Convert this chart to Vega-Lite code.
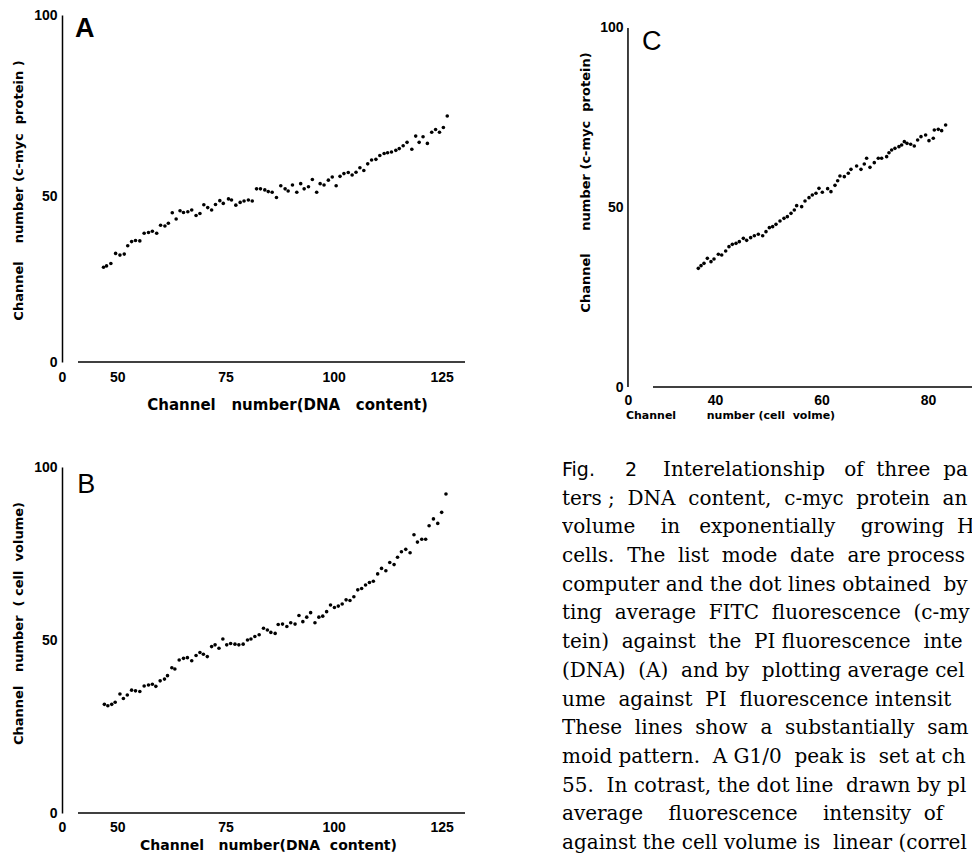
{
  "$schema": "https://vega.github.io/schema/vega-lite/v6.json",
  "background": "white",
  "padding": {"left": 12, "top": 8, "right": 0, "bottom": 0},
  "autosize": {"type": "pad"},
  "config": {
    "view": {"stroke": null},
    "axis": {
      "labelFont": "Liberation Sans", "labelFontWeight": "bold", "labelFontSize": 14, "labelColor": "black",
      "titleFont": "DejaVu Sans", "titleFontWeight": "bold", "titleFontSize": 13, "titleColor": "black",
      "domainColor": "black", "domainWidth": 1.5, "ticks": false, "grid": false,
      "labelFlush": false, "labelOverlap": false
    }
  },
  "datasets": {
    "a": [
      {"x":46.8,"y":27.3},{"x":47.5,"y":27.7},{"x":48.5,"y":28.4},{"x":49.6,"y":31.3},{"x":50.6,"y":30.8},{"x":51.6,"y":31.1},{"x":52.4,"y":33.5},{"x":53.3,"y":34.7},{"x":54.2,"y":35.0},{"x":55.2,"y":34.9},
      {"x":56.2,"y":37.1},{"x":57.2,"y":37.3},{"x":58.1,"y":37.7},{"x":59.1,"y":37.1},{"x":60.0,"y":39.4},{"x":61.0,"y":39.2},{"x":61.8,"y":40.0},{"x":62.7,"y":43.0},{"x":63.6,"y":41.2},{"x":64.5,"y":43.6},
      {"x":65.3,"y":43.1},{"x":66.3,"y":43.3},{"x":67.2,"y":43.8},{"x":68.2,"y":42.2},{"x":69.1,"y":42.8},{"x":70.0,"y":45.3},{"x":70.9,"y":44.5},{"x":71.8,"y":43.8},{"x":72.7,"y":45.4},{"x":73.7,"y":46.5},
      {"x":74.5,"y":45.7},{"x":75.7,"y":47.0},{"x":76.4,"y":46.7},{"x":77.4,"y":45.2},{"x":78.4,"y":46.0},{"x":79.3,"y":46.4},{"x":80.3,"y":46.7},{"x":81.2,"y":46.4},{"x":82.2,"y":49.9},{"x":83.1,"y":49.9},
      {"x":84.1,"y":49.6},{"x":84.9,"y":49.1},{"x":85.8,"y":48.9},{"x":86.8,"y":47.4},{"x":87.8,"y":50.8},{"x":88.8,"y":49.9},{"x":89.5,"y":49.3},{"x":90.5,"y":51.0},{"x":91.5,"y":48.9},{"x":92.4,"y":51.4},
      {"x":93.2,"y":49.9},{"x":94.2,"y":50.5},{"x":95.1,"y":52.6},{"x":96.1,"y":48.9},{"x":96.9,"y":51.4},{"x":97.8,"y":51.0},{"x":98.8,"y":52.4},{"x":99.7,"y":53.3},{"x":100.6,"y":50.8},{"x":101.5,"y":53.5},
      {"x":102.4,"y":54.3},{"x":103.4,"y":54.6},{"x":104.3,"y":53.9},{"x":105.2,"y":54.7},{"x":106.1,"y":56.0},{"x":107.0,"y":55.2},{"x":107.9,"y":57.1},{"x":108.8,"y":58.2},{"x":109.8,"y":58.4},{"x":110.7,"y":59.5},
      {"x":111.7,"y":60.1},{"x":112.5,"y":60.3},{"x":113.4,"y":60.5},{"x":114.4,"y":61.0},{"x":115.2,"y":61.5},{"x":116.1,"y":62.3},{"x":117.0,"y":63.3},{"x":118.1,"y":61.3},{"x":119.0,"y":65.1},{"x":119.8,"y":63.3},
      {"x":120.7,"y":64.9},{"x":121.7,"y":63.0},{"x":122.7,"y":66.2},{"x":123.6,"y":67.0},{"x":124.5,"y":66.2},{"x":125.4,"y":67.6},{"x":126.3,"y":70.9}
    ],
    "b": [
      {"x":47.0,"y":31.4},{"x":47.8,"y":31.0},{"x":48.7,"y":31.4},{"x":49.5,"y":32.0},{"x":50.6,"y":34.4},{"x":51.4,"y":33.1},{"x":52.3,"y":34.1},{"x":53.3,"y":35.5},{"x":54.2,"y":35.3},{"x":55.2,"y":35.1},
      {"x":56.2,"y":36.7},{"x":57.2,"y":37.0},{"x":58.1,"y":37.2},{"x":58.9,"y":36.6},{"x":59.9,"y":38.2},{"x":60.9,"y":38.7},{"x":61.6,"y":39.7},{"x":62.6,"y":42.0},{"x":63.3,"y":41.6},{"x":64.3,"y":44.2},
      {"x":65.3,"y":44.7},{"x":66.2,"y":44.9},{"x":67.2,"y":44.0},{"x":68.2,"y":45.5},{"x":69.1,"y":46.4},{"x":69.9,"y":45.9},{"x":70.8,"y":45.2},{"x":71.8,"y":48.1},{"x":72.6,"y":48.6},{"x":73.5,"y":47.6},
      {"x":74.4,"y":50.3},{"x":75.3,"y":48.6},{"x":76.2,"y":49.0},{"x":77.2,"y":48.8},{"x":78.1,"y":48.6},{"x":79.1,"y":48.8},{"x":80.1,"y":50.0},{"x":80.9,"y":50.3},{"x":81.8,"y":51.0},{"x":82.8,"y":51.5},
      {"x":83.8,"y":53.4},{"x":84.7,"y":52.9},{"x":85.5,"y":52.2},{"x":86.5,"y":51.9},{"x":87.2,"y":54.5},{"x":88.2,"y":54.6},{"x":89.2,"y":53.9},{"x":90.1,"y":55.0},{"x":91.1,"y":54.6},{"x":92.0,"y":57.1},
      {"x":92.9,"y":55.3},{"x":93.8,"y":56.6},{"x":94.7,"y":57.9},{"x":95.7,"y":55.0},{"x":96.6,"y":56.6},{"x":97.5,"y":56.9},{"x":98.4,"y":58.2},{"x":99.3,"y":60.1},{"x":100.2,"y":59.4},{"x":101.1,"y":59.8},
      {"x":102.0,"y":60.4},{"x":102.9,"y":61.6},{"x":103.8,"y":61.4},{"x":104.7,"y":62.5},{"x":105.6,"y":64.5},{"x":106.5,"y":64.9},{"x":107.4,"y":65.9},{"x":108.3,"y":66.6},{"x":109.2,"y":67.0},{"x":110.2,"y":69.1},
      {"x":111.1,"y":70.7},{"x":112.1,"y":70.0},{"x":113.0,"y":72.4},{"x":114.0,"y":71.8},{"x":114.8,"y":73.9},{"x":115.7,"y":75.5},{"x":116.7,"y":76.2},{"x":117.7,"y":75.2},{"x":118.6,"y":80.4},{"x":119.4,"y":78.3},
      {"x":120.4,"y":79.1},{"x":121.3,"y":79.1},{"x":122.1,"y":83.0},{"x":123.1,"y":85.0},{"x":124.1,"y":83.7},{"x":125.0,"y":86.9},{"x":126.0,"y":92.2}
    ],
    "c": [
      {"x":36.87,"y":33.05},{"x":37.38,"y":33.8},{"x":37.94,"y":34.45},{"x":38.57,"y":35.84},{"x":39.25,"y":34.91},{"x":39.82,"y":35.65},{"x":40.63,"y":36.96},{"x":41.26,"y":36.77},{"x":42.01,"y":37.88},{"x":42.63,"y":39.09},
      {"x":43.26,"y":39.74},{"x":43.95,"y":40.02},{"x":44.57,"y":40.48},{"x":45.33,"y":41.41},{"x":45.95,"y":40.85},{"x":46.7,"y":41.6},{"x":47.39,"y":42.15},{"x":48.14,"y":42.53},{"x":48.96,"y":42.15},{"x":49.58,"y":43.27},
      {"x":50.21,"y":44.38},{"x":50.83,"y":44.66},{"x":51.46,"y":45.31},{"x":52.21,"y":46.24},{"x":52.96,"y":46.98},{"x":53.59,"y":47.45},{"x":54.28,"y":48.37},{"x":54.9,"y":49.3},{"x":55.34,"y":50.51},{"x":56.28,"y":50.23},
      {"x":56.91,"y":51.81},{"x":57.66,"y":52.74},{"x":58.28,"y":53.48},{"x":58.97,"y":53.95},{"x":59.53,"y":55.34},{"x":60.16,"y":54.23},{"x":61.16,"y":55.25},{"x":61.78,"y":54.41},{"x":62.54,"y":56.17},{"x":63.04,"y":57.47},
      {"x":63.47,"y":58.77},{"x":64.29,"y":58.59},{"x":65.04,"y":59.52},{"x":65.54,"y":60.63},{"x":66.6,"y":61.56},{"x":67.42,"y":60.63},{"x":68.04,"y":62.12},{"x":68.48,"y":63.7},{"x":69.11,"y":61.19},{"x":69.92,"y":62.49},
      {"x":70.67,"y":63.7},{"x":71.3,"y":63.7},{"x":72.24,"y":64.16},{"x":72.68,"y":65.27},{"x":73.18,"y":66.02},{"x":73.8,"y":66.48},{"x":74.55,"y":66.95},{"x":75.06,"y":67.41},{"x":75.56,"y":68.34},{"x":76.06,"y":67.87},
      {"x":76.75,"y":67.6},{"x":77.43,"y":67.13},{"x":78.06,"y":68.8},{"x":78.69,"y":69.73},{"x":79.56,"y":70.19},{"x":80.19,"y":68.62},{"x":81.0,"y":69.27},{"x":81.19,"y":71.59},{"x":81.94,"y":71.77},{"x":82.57,"y":71.4},
      {"x":83.32,"y":72.98}
    ],
    "caption": [
      {"line":1,"kind":"fig","text":"Fig.\u00a0\u00a0\u00a0\u00a0 2"},
      {"line":1,"kind":"first","text":"Interelationship \u00a0\u00a0of \u00a0three \u00a0pa"},
      {"line":2,"kind":"body","text":"ters ; \u00a0DNA \u00a0content, \u00a0c-myc \u00a0protein \u00a0an"},
      {"line":3,"kind":"body","text":"volume \u00a0\u00a0\u00a0in \u00a0\u00a0exponentially \u00a0\u00a0\u00a0growing \u00a0H"},
      {"line":4,"kind":"body","text":"cells. \u00a0The \u00a0list \u00a0mode \u00a0date \u00a0are process"},
      {"line":5,"kind":"body","text":"computer and the dot lines obtained \u00a0by"},
      {"line":6,"kind":"body","text":"ting \u00a0average \u00a0FITC \u00a0fluorescence \u00a0(c-my"},
      {"line":7,"kind":"body","text":"tein) \u00a0against \u00a0the \u00a0PI fluorescence \u00a0inte"},
      {"line":8,"kind":"body","text":"(DNA) \u00a0(A) \u00a0and by \u00a0plotting average cel"},
      {"line":9,"kind":"body","text":"ume \u00a0against \u00a0PI \u00a0fluorescence intensit"},
      {"line":10,"kind":"body","text":"These \u00a0lines \u00a0show \u00a0a \u00a0substantially \u00a0sam"},
      {"line":11,"kind":"body","text":"moid pattern. \u00a0A G1/0 \u00a0peak is \u00a0set at ch"},
      {"line":12,"kind":"body","text":"55. \u00a0In cotrast, the dot line \u00a0drawn by pl"},
      {"line":13,"kind":"body","text":"average \u00a0\u00a0\u00a0fluorescence \u00a0\u00a0\u00a0intensity \u00a0of"},
      {"line":14,"kind":"body","text":"against the cell volume is \u00a0linear (correl"}
    ]
  },
  "spacing": 96,
  "hconcat": [
    {
      "bounds": "flush",
      "spacing": 105,
      "vconcat": [
        {
          "width": 403, "height": 347,
          "layer": [
            {
              "data": {"name": "a"},
              "mark": {"type": "point", "filled": true, "color": "black", "size": 13, "opacity": 1},
              "encoding": {
                "x": {"field": "x", "type": "quantitative", "scale": {"domain": [37.2, 130.4], "nice": false, "zero": false},
                  "axis": {"values": [37.2, 50, 75, 100, 125], "labelExpr": "datum.value < 40 ? '0' : datum.label", "domain": false, "labelPadding": 8,
                    "title": "Channel\u00a0\u00a0 number(DNA\u00a0\u00a0 content)", "titleFontSize": 15, "titleX": 225, "titleY": 42, "titleBaseline": "middle"}},
                "y": {"field": "y", "type": "quantitative", "scale": {"domain": [0, 100], "nice": false},
                  "axis": {"values": [0, 50, 100], "labelPadding": 5,
                    "labelOffset": {"condition": {"test": "datum.value == 50", "value": 8}, "value": 0},
                    "title": "Channel\u00a0\u00a0\u00a0 number (c-myc\u00a0 protein )", "titleX": -44, "titleY": 175, "titleBaseline": "middle"}}
              }
            },
            {
              "data": {"values": [{}]},
              "mark": {"type": "rule", "color": "black", "strokeWidth": 1.5},
              "encoding": {"x": {"datum": 40.9, "type": "quantitative"}, "x2": {"datum": 130.4}, "y": {"datum": 0, "type": "quantitative"}}
            },
            {
              "data": {"values": [{}]},
              "mark": {"type": "text", "text": "A", "font": "Liberation Sans", "fontSize": 27, "fontWeight": "bold", "align": "left", "baseline": "alphabetic", "color": "black"},
              "encoding": {"x": {"datum": 40.2, "type": "quantitative"}, "y": {"datum": 93.7, "type": "quantitative"}}
            }
          ]
        },
        {
          "width": 403, "height": 346,
          "layer": [
            {
              "data": {"name": "b"},
              "mark": {"type": "point", "filled": true, "color": "black", "size": 13, "opacity": 1},
              "encoding": {
                "x": {"field": "x", "type": "quantitative", "scale": {"domain": [37.2, 130.4], "nice": false, "zero": false},
                  "axis": {"values": [37.2, 50, 75, 100, 125], "labelExpr": "datum.value < 40 ? '0' : datum.label", "domain": false, "labelPadding": 7,
                    "title": "Channel\u00a0\u00a0 number(DNA\u00a0 content)", "titleFontSize": 14, "titleX": 206, "titleY": 32, "titleBaseline": "middle"}},
                "y": {"field": "y", "type": "quantitative", "scale": {"domain": [0, 100], "nice": false},
                  "axis": {"values": [0, 50, 100], "labelPadding": 5,
                    "title": "Channel\u00a0\u00a0 number\u00a0 (\u00a0cell\u00a0 volume)", "titleX": -44, "titleY": 156, "titleBaseline": "middle"}}
              }
            },
            {
              "data": {"values": [{}]},
              "mark": {"type": "rule", "color": "black", "strokeWidth": 1.5},
              "encoding": {"x": {"datum": 40.9, "type": "quantitative"}, "x2": {"datum": 130.4}, "y": {"datum": 0, "type": "quantitative"}}
            },
            {
              "data": {"values": [{}]},
              "mark": {"type": "text", "text": "B", "font": "Liberation Sans", "fontSize": 27, "fontWeight": "normal", "align": "left", "baseline": "alphabetic", "color": "black"},
              "encoding": {"x": {"datum": 40.7, "type": "quantitative"}, "y": {"datum": 92.5, "type": "quantitative"}}
            }
          ]
        }
      ]
    },
    {
      "bounds": "flush",
      "spacing": 68,
      "vconcat": [
        {
          "width": 410, "height": 372,
          "layer": [
            {
              "data": {"name": "c"},
              "mark": {"type": "point", "filled": true, "color": "black", "size": 13, "opacity": 1},
              "encoding": {
                "x": {"field": "x", "type": "quantitative", "scale": {"domain": [11.27, 88.27], "nice": false, "zero": false},
                  "axis": {"values": [23.66, 40, 60, 80], "labelExpr": "datum.value < 30 ? '0' : datum.label", "domain": false, "labelPadding": 6,
                    "title": "Channel\u00a0\u00a0\u00a0\u00a0\u00a0\u00a0\u00a0 number (cell\u00a0 volme)", "titleFontSize": 11, "titleX": 168, "titleY": 28, "titleBaseline": "middle"}},
                "y": {"field": "y", "type": "quantitative", "scale": {"domain": [0, 103.62], "nice": false},
                  "axis": {"values": [0, 50, 100], "domain": false, "offset": -66, "labelPadding": 5,
                    "title": "Channel\u00a0\u00a0\u00a0\u00a0 number (c-myc\u00a0 protein)", "titleFontSize": 13, "titleX": -43, "titleY": 167, "titleBaseline": "middle"}}
              }
            },
            {
              "data": {"values": [{}]},
              "mark": {"type": "rule", "color": "black", "strokeWidth": 1.5},
              "encoding": {"x": {"datum": 28.36, "type": "quantitative"}, "x2": {"datum": 88.27}, "y": {"datum": 0, "type": "quantitative"}}
            },
            {
              "data": {"values": [{}]},
              "mark": {"type": "rule", "color": "black", "strokeWidth": 1.5},
              "encoding": {"x": {"datum": 23.66, "type": "quantitative"}, "y": {"datum": 0, "type": "quantitative"}, "y2": {"datum": 100}}
            },
            {
              "data": {"values": [{}]},
              "mark": {"type": "text", "text": "C", "font": "Liberation Sans", "fontSize": 27, "fontWeight": "normal", "align": "left", "baseline": "alphabetic", "color": "black"},
              "encoding": {"x": {"datum": 26.3, "type": "quantitative"}, "y": {"datum": 93.9, "type": "quantitative"}}
            }
          ]
        },
        {
          "width": 410, "height": 402,
          "data": {"name": "caption"},
          "encoding": {
            "x": {"datum": 0, "type": "quantitative", "scale": {"domain": [0, 1]}, "axis": null},
            "y": {"field": "line", "type": "quantitative", "scale": {"domain": [0.477, 14.489], "reverse": true, "nice": false, "zero": false}, "axis": null},
            "text": {"field": "text"}
          },
          "layer": [
            {"transform": [{"filter": "datum.kind == 'body'"}],
             "mark": {"type": "text", "align": "left", "baseline": "middle", "font": "DejaVu Serif", "fontSize": 20, "color": "black", "clip": true}},
            {"transform": [{"filter": "datum.kind == 'first'"}],
             "mark": {"type": "text", "align": "left", "baseline": "middle", "font": "DejaVu Serif", "fontSize": 20, "color": "black", "clip": true, "dx": 101}},
            {"transform": [{"filter": "datum.kind == 'fig'"}],
             "mark": {"type": "text", "align": "left", "baseline": "middle", "font": "DejaVu Sans", "fontSize": 19, "color": "black", "clip": true}}
          ]
        }
      ]
    }
  ]
}
